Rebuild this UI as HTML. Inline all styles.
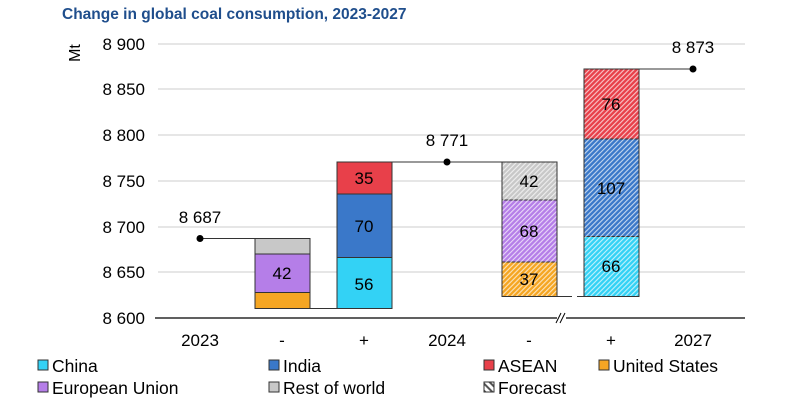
<!DOCTYPE html>
<html><head><style>body{margin:0;background:#fff}svg{display:block}text{font-family:"Liberation Sans",Arial,sans-serif}</style></head>
<body>
<svg width="800" height="402" viewBox="0 0 800 402" xmlns="http://www.w3.org/2000/svg">
<defs>
<pattern id="h" width="3.5" height="3.5" patternUnits="userSpaceOnUse" patternTransform="rotate(45)">
<rect x="0" y="0" width="1.1" height="3.5" fill="#fff" opacity="0.7"/>
</pattern>
<pattern id="hl" width="5" height="5" patternUnits="userSpaceOnUse" patternTransform="rotate(-45)">
<rect width="5" height="5" fill="#fff"/><rect x="0" y="0" width="2" height="5" fill="#555"/>
</pattern>
</defs>
<text x="62" y="19" font-size="15.5" font-weight="bold" fill="#1f4e8c">Change in global coal consumption, 2023-2027</text>
<text transform="translate(80,53) rotate(-90)" font-size="16" text-anchor="middle" fill="#000">Mt</text>
<g font-size="17" fill="#000" text-anchor="end">
<text x="145" y="50">8 900</text><text x="145" y="95">8 850</text><text x="145" y="141">8 800</text>
<text x="145" y="187">8 750</text><text x="145" y="233">8 700</text><text x="145" y="278">8 650</text><text x="145" y="324">8 600</text>
</g>
<g stroke="#ddd" stroke-width="1.5">
<line x1="158" y1="44" x2="745" y2="44"/><line x1="158" y1="89" x2="745" y2="89"/><line x1="158" y1="135" x2="745" y2="135"/>
<line x1="158" y1="181" x2="745" y2="181"/><line x1="158" y1="227" x2="745" y2="227"/><line x1="158" y1="272" x2="745" y2="272"/>
</g>
<line x1="155" y1="318" x2="745" y2="318" stroke="#000" stroke-width="1.2"/>
<rect x="557" y="312" width="9" height="12" fill="#fff"/>
<line x1="556" y1="323" x2="561" y2="313" stroke="#000"/><line x1="560" y1="323" x2="565" y2="313" stroke="#000"/>
<g stroke="#333" stroke-width="1">
<rect x="255" y="238.5" width="55" height="15.5" fill="#c8c8c8"/>
<rect x="255" y="254" width="55" height="38.5" fill="#b57ee8"/>
<rect x="255" y="292.5" width="55" height="16" fill="#f5a623"/>
<rect x="337" y="257.5" width="55" height="51" fill="#33d2f5"/>
<rect x="337" y="194" width="55" height="63.5" fill="#3a78c9"/>
<rect x="337" y="162" width="55" height="32" fill="#e8404a"/>
<rect x="502" y="162" width="55" height="38" fill="#c8c8c8"/>
<rect x="502" y="200" width="55" height="62" fill="#b57ee8"/>
<rect x="502" y="262" width="55" height="34.5" fill="#f5a623"/>
<rect x="584" y="236.5" width="55" height="60" fill="#33d2f5"/>
<rect x="584" y="139" width="55" height="97.5" fill="#3a78c9"/>
<rect x="584" y="69" width="55" height="70" fill="#e8404a"/>
</g>
<g>
<rect x="502" y="162" width="55" height="134.5" fill="url(#h)"/>
<rect x="584" y="69" width="55" height="227.5" fill="url(#h)"/>
</g>
<g stroke="#333" stroke-width="1" fill="none">
<rect x="502" y="162" width="55" height="134.5"/><rect x="584" y="69" width="55" height="227.5"/>
</g>
<g stroke="#333" stroke-width="1">
<line x1="200" y1="238.5" x2="310" y2="238.5"/>
<line x1="310" y1="308.5" x2="337" y2="308.5"/>
<line x1="337" y1="162" x2="557" y2="162"/>
<line x1="557" y1="296.5" x2="572" y2="296.5"/><line x1="577" y1="296.5" x2="584" y2="296.5"/>
<line x1="584" y1="69" x2="693" y2="69"/>
</g>
<g fill="#000"><circle cx="200" cy="238.5" r="3.5"/><circle cx="447" cy="162" r="3.5"/><circle cx="693" cy="69" r="3.5"/></g>
<g font-size="17" text-anchor="middle" fill="#000">
<text x="200" y="223">8 687</text><text x="447" y="146">8 771</text><text x="693" y="53">8 873</text>
<text x="282" y="279">42</text>
<text x="364" y="290">56</text><text x="364" y="232">70</text><text x="364" y="184">35</text>
<text x="529" y="187">42</text><text x="529" y="237">68</text><text x="529" y="285">37</text>
<text x="611" y="272">66</text><text x="611" y="194">107</text><text x="611" y="110">76</text>
<text x="200" y="346">2023</text><text x="282" y="346">-</text><text x="364" y="346">+</text>
<text x="447" y="346">2024</text><text x="529" y="346">-</text><text x="611" y="346">+</text><text x="693" y="346">2027</text>
</g>
<g stroke="#333" stroke-width="1">
<rect x="38" y="360" width="10" height="10" fill="#33d2f5"/>
<rect x="269" y="360" width="10" height="10" fill="#3a78c9"/>
<rect x="484" y="360" width="10" height="10" fill="#e8404a"/>
<rect x="599" y="360" width="10" height="10" fill="#f5a623"/>
<rect x="38" y="382" width="10" height="10" fill="#b57ee8"/>
<rect x="269" y="382" width="10" height="10" fill="#c8c8c8"/>
<rect x="484" y="382" width="10" height="10" fill="url(#hl)"/>
</g>
<g font-size="17.5" fill="#000">
<text x="52" y="372">China</text><text x="283" y="372">India</text><text x="498" y="372">ASEAN</text><text x="613" y="372">United States</text>
<text x="52" y="394">European Union</text><text x="283" y="394">Rest of world</text><text x="498" y="394">Forecast</text>
</g>
</svg>
</body></html>
